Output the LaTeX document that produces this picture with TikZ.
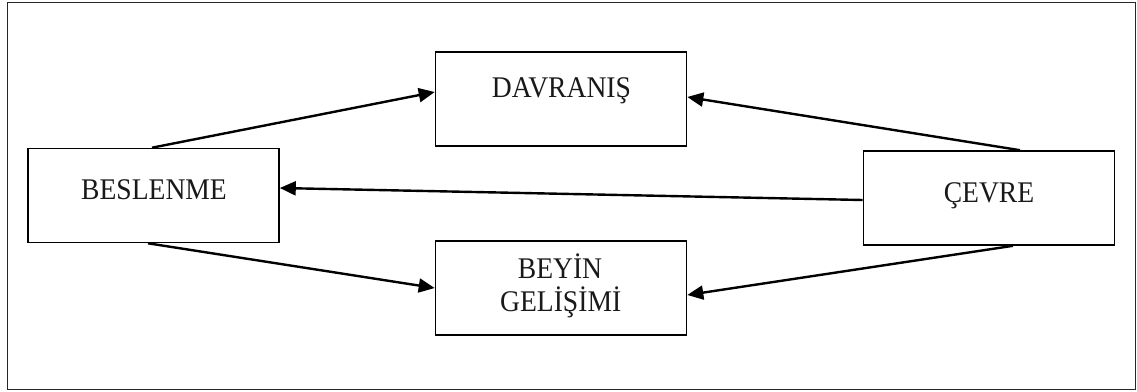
\documentclass[tikz,border=0pt]{standalone}
\usepackage{fontspec}
\setmainfont{Liberation Serif}[FakeStretch=0.92]
\usetikzlibrary{arrows.meta}
\begin{document}
\begin{tikzpicture}[x=1pt,y=-1pt,
  box/.style={draw=black,line width=1.6pt,rectangle,minimum width=251pt,minimum height=94pt,inner sep=0pt},
  lbl/.style={anchor=base,inner sep=0pt,text=black!90,font=\fontsize{30}{33}\selectfont},
  link/.style={line width=2.4pt,-{Triangle[length=16pt,width=14pt]}}]
  \path[use as bounding box] (0,0) rectangle (1137,391);
  % outer frame
  \draw[line width=1pt,black!85] (7.5,2) rectangle (1135.5,389);

  % boxes
  \node[box] (bes) at (153.5,195.5) {};
  \node[box] (dav) at (561,99) {};
  \node[box] (bey) at (561,288) {};
  \node[box] (cev) at (989,198) {};

  % labels
  \node[lbl] (bes-t) at (154,199.3) {BESLENME};
  \node[lbl] (dav-t) at (561.5,97.3) {DAVRANIŞ};
  \node[lbl] (cev-t) at (989,202.7) {ÇEVRE};
  \node[lbl] (bey-t1) at (560,278.3) {BEYİN};
  \node[lbl] (bey-t2) at (560.7,311.7) {GELİŞİMİ};

  % connectors
  \draw[link] ([xshift=-1.5pt]bes.north) -- ([yshift=7pt]dav.west);
  \draw[link] ([xshift=31pt]cev.north) -- ([yshift=2pt]dav.east);
  \draw[link] ([yshift=-2pt]cev.west) -- ([yshift=7.5pt]bes.east);
  \draw[link] ([xshift=-5.5pt]bes.south) -- (bey.west);
  \draw[link] ([xshift=24pt]cev.south) -- ([yshift=-7pt]bey.east);
\end{tikzpicture}
\end{document}
